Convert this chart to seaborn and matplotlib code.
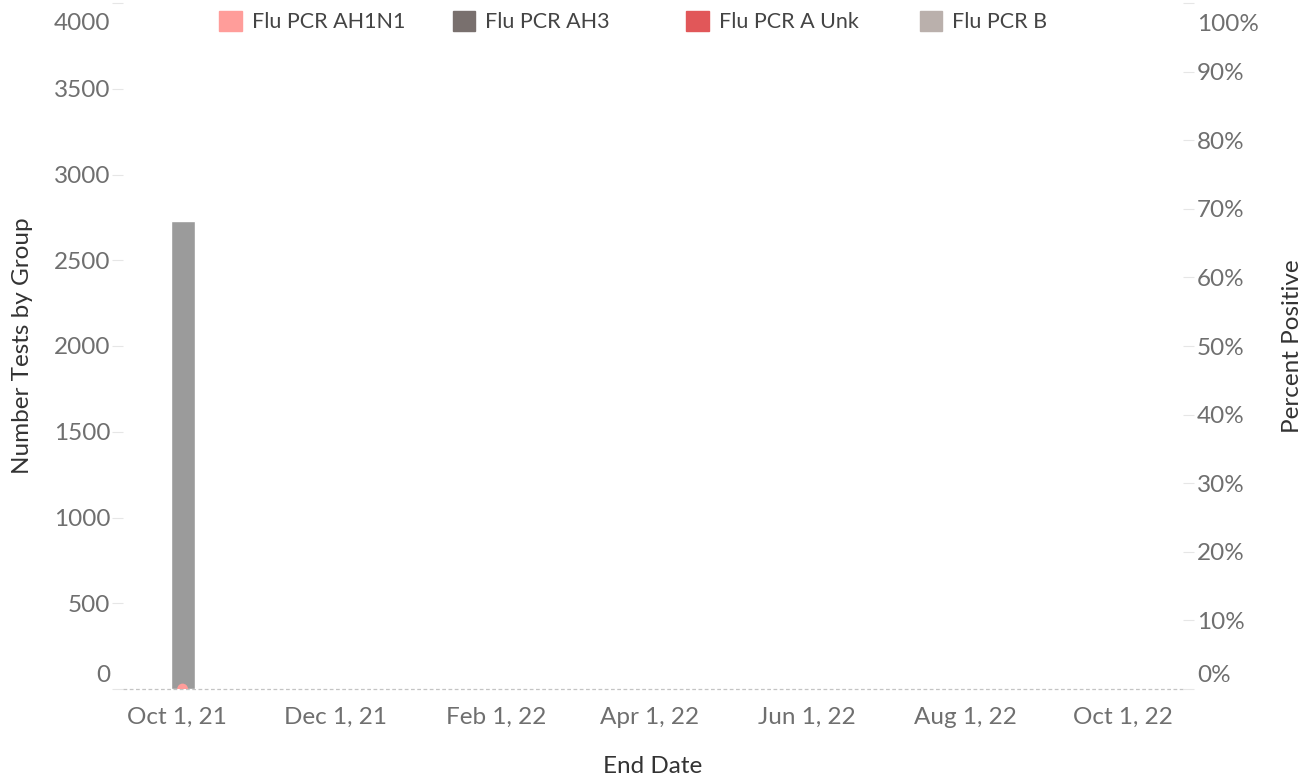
import numpy as np
import pandas as pd
import seaborn as sns
import matplotlib.pyplot as plt
import matplotlib.dates as mdates
from matplotlib.patches import Patch
from matplotlib.transforms import ScaledTranslation

# data
end_dates = pd.to_datetime(['2021-10-03'])
tests_by_group = [2730]
pct_positive = [0.0]

legend_labels = ['Flu PCR AH1N1', 'Flu PCR AH3', 'Flu PCR A Unk', 'Flu PCR B']
legend_colors = ['#ff9d9a', '#79706e', '#e15759', '#bab0ac']

xtick_dates = pd.to_datetime(['2021-10-01', '2021-12-01', '2022-02-01', '2022-04-01',
                              '2022-06-01', '2022-08-01', '2022-10-01'])
xtick_labels = ['Oct 1, 21', 'Dec 1, 21', 'Feb 1, 22', 'Apr 1, 22',
                'Jun 1, 22', 'Aug 1, 22', 'Oct 1, 22']
left_ticks = [0, 500, 1000, 1500, 2000, 2500, 3000, 3500, 4000]
right_ticks = [0, .1, .2, .3, .4, .5, .6, .7, .8, .9, 1.0]

sns.set_style('white')
plt.rcParams['font.family'] = ['Lato', 'DejaVu Sans']

W, H = 1306, 778
fig = plt.figure(figsize=(W / 100, H / 100), dpi=100)
ax = fig.add_axes([123 / W, 1 - 689 / H, (1183 - 123) / W, (689 - 3) / H])
ax2 = ax.twinx()

tick_col = '#6f6f6f'
title_col = '#333333'
fs = 17.5
title_fs = 17.5

# bars
df = pd.DataFrame({'end_date': end_dates, 'tests': tests_by_group, 'pct': pct_positive})
ax.bar(df.end_date, df.tests, width=9.3, color='#9b9b9b', zorder=2)

# percent positive dot
sns.scatterplot(data=df, x='end_date', y='pct', ax=ax2, color='#ff9d9a', s=60,
                edgecolor='none', zorder=3)

ax.set_xlim(pd.Timestamp('2021-09-10'), pd.Timestamp('2022-10-24'))
ax.set_ylim(0, 4000)
ax2.set_ylim(0, 1)

for a in (ax, ax2):
    for s in a.spines.values():
        s.set_visible(False)

ax.axhline(0, color='#c4c4c4', lw=0.9, ls=(0, (3, 2)), zorder=1, clip_on=False)

# x ticks
ax.set_xticks(xtick_dates)
ax.set_xticklabels(xtick_labels)
ax.xaxis.set_minor_locator(mdates.MonthLocator())
ax.tick_params(axis='x', which='both', length=6, color='#e6e6e6', labelsize=fs,
               labelcolor=tick_col, pad=7)

# left y ticks
ax.set_yticks(left_ticks)
ax.set_yticklabels([str(v) for v in left_ticks])
ax.tick_params(axis='y', length=8, color='#e6e6e6', labelsize=fs, labelcolor=tick_col, pad=1)

# right y ticks
ax2.set_yticks(right_ticks)
ax2.set_yticklabels([f'{int(round(v * 100))}%' for v in right_ticks])
ax2.tick_params(axis='y', length=8, color='#e6e6e6', labelsize=fs, labelcolor=tick_col, pad=2)

# nudge end labels inside the plot like the original
labs = ax.get_yticklabels()
labs[0].set_transform(labs[0].get_transform() + ScaledTranslation(0, 16 / 100, fig.dpi_scale_trans))
labs[-1].set_transform(labs[-1].get_transform() + ScaledTranslation(0, -19 / 100, fig.dpi_scale_trans))
labs2 = ax2.get_yticklabels()
labs2[0].set_transform(labs2[0].get_transform() + ScaledTranslation(0, 16 / 100, fig.dpi_scale_trans))
labs2[-1].set_transform(labs2[-1].get_transform() + ScaledTranslation(0, -19 / 100, fig.dpi_scale_trans))

ax.set_xlabel('End Date', fontsize=title_fs, color=title_col, labelpad=20)
ax.set_ylabel('Number Tests by Group', fontsize=title_fs, color=title_col, labelpad=15)
ax2.set_ylabel('Percent Positive', fontsize=title_fs, color=title_col, labelpad=17)

# legend, one entry per fixed slot
for i, (lab, col) in enumerate(zip(legend_labels, legend_colors)):
    fig.legend(handles=[Patch(color=col, label=lab)], loc='upper left',
               bbox_to_anchor=((202 + i * 233.5) / W, 1.008), frameon=False,
               fontsize=15.5, handlelength=1.05, handleheight=1.05, handletextpad=0.45,
               labelcolor='#444444', borderpad=0.3)

fig.savefig('out.png', dpi=100)
